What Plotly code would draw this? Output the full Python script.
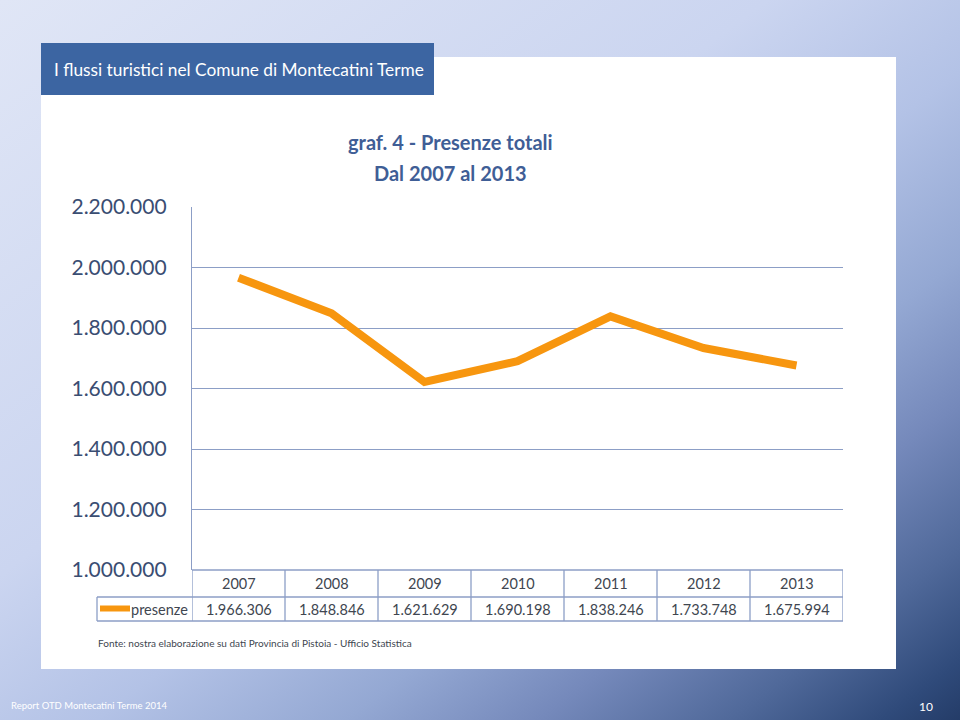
import base64
import plotly.graph_objects as go

# ---------------- data ----------------
years = ["2007", "2008", "2009", "2010", "2011", "2012", "2013"]
presenze = [1966306, 1848846, 1621629, 1690198, 1838246, 1733748, 1675994]
y_ticks = [1000000, 1200000, 1400000, 1600000, 1800000, 2000000, 2200000]
series_name = "presenze"
slide_title = "I flussi turistici nel Comune di Montecatini Terme"
chart_title = "graf. 4 - Presenze totali"
chart_subtitle = "Dal 2007 al 2013"
source_note = "Fonte: nostra elaborazione su dati Provincia di Pistoia - Ufficio Statistica"
footer_text = "Report OTD Montecatini Terme 2014"
page_number = "10"

W, H = 960, 720
def px(x):
    return x / W
def py(y):
    return 1 - y / H

ORANGE = "#F7960F"
GRID = "#8C9EC6"
TEXT_DARK = "#404650"
BLUE_TITLE = "#3F5E96"

def fmt(v):
    return f"{v:,}".replace(",", ".")

# background gradient as SVG image
svg = (
    '<svg xmlns="http://www.w3.org/2000/svg" width="960" height="720" preserveAspectRatio="none">'
    '<defs><linearGradient id="g" x1="0" y1="0" x2="1" y2="1">'
    '<stop offset="0" stop-color="#e0e6f6"/>'
    '<stop offset="0.4" stop-color="#cbd5f0"/>'
    '<stop offset="0.55" stop-color="#b3c2e6"/>'
    '<stop offset="0.68" stop-color="#94a8d3"/>'
    '<stop offset="0.78" stop-color="#7589bb"/>'
    '<stop offset="0.88" stop-color="#50699a"/>'
    '<stop offset="0.96" stop-color="#2f4a7a"/>'
    '<stop offset="1" stop-color="#243c68"/>'
    '</linearGradient></defs>'
    '<rect width="960" height="720" fill="url(#g)"/></svg>'
)
bg_src = "data:image/svg+xml;base64," + base64.b64encode(svg.encode()).decode()

fig = go.Figure()
fig.add_trace(go.Scatter(
    x=years, y=presenze, mode="lines", name=series_name,
    line=dict(color=ORANGE, width=8), showlegend=False,
    hovertemplate="%{x}: %{y:,d}<extra></extra>",
))

x_dom = [px(192), px(843)]
y_dom = [py(570), py(207)]

shapes = []
shapes.append(dict(type="rect", xref="paper", yref="paper", x0=px(41), x1=px(896), y0=py(669), y1=py(57),
                   fillcolor="white", line=dict(width=0), layer="below"))
shapes.append(dict(type="rect", xref="paper", yref="paper", x0=px(41), x1=px(434), y0=py(95), y1=py(43),
                   fillcolor="#3C65A2", line=dict(width=0), layer="below"))

row_top, row_mid, row_bot = 570, 597, 621
for i in range(len(years) + 1):
    shapes.append(dict(type="line", xref="x", yref="paper", x0=i - 0.5, x1=i - 0.5,
                       y0=py(row_top), y1=py(row_bot), line=dict(color=GRID, width=1.3)))
shapes.append(dict(type="line", xref="paper", yref="paper", x0=px(97), x1=px(97),
                   y0=py(row_mid), y1=py(row_bot), line=dict(color=GRID, width=1.3)))
shapes.append(dict(type="line", xref="x", yref="paper", x0=-0.5, x1=len(years) - 0.5,
                   y0=py(row_top), y1=py(row_top), line=dict(color=GRID, width=1.3)))
for yy in (row_mid, row_bot):
    shapes.append(dict(type="line", xref="paper", yref="paper", x0=px(97), x1=px(843),
                       y0=py(yy), y1=py(yy), line=dict(color=GRID, width=1.3)))
shapes.append(dict(type="line", xref="paper", yref="paper", x0=px(100), x1=px(130),
                   y0=py(608.5), y1=py(608.5), line=dict(color=ORANGE, width=6)))

annotations = []
annotations.append(dict(text=slide_title, xref="paper", yref="paper", x=px(52), y=py(70),
                        xanchor="left", yanchor="middle", showarrow=False,
                        font=dict(family="Lato", size=17.3, color="white")))
annotations.append(dict(text="<b>" + chart_title + "</b>", xref="paper", yref="paper", x=px(450), y=py(142),
                        xanchor="center", yanchor="middle", showarrow=False,
                        font=dict(family="Lato", size=20, color=BLUE_TITLE)))
annotations.append(dict(text="<b>" + chart_subtitle + "</b>", xref="paper", yref="paper", x=px(450), y=py(173),
                        xanchor="center", yanchor="middle", showarrow=False,
                        font=dict(family="Lato", size=20, color=BLUE_TITLE)))
for i, (yr, v) in enumerate(zip(years, presenze)):
    annotations.append(dict(text=yr, xref="x", yref="paper", x=i, y=py(583.5), xanchor="center",
                            yanchor="middle", showarrow=False,
                            font=dict(family="Lato", size=14.5, color=TEXT_DARK)))
    annotations.append(dict(text=fmt(v), xref="x", yref="paper", x=i, y=py(609), xanchor="center",
                            yanchor="middle", showarrow=False,
                            font=dict(family="Lato", size=14.5, color=TEXT_DARK)))
annotations.append(dict(text=series_name, xref="paper", yref="paper", x=px(190), y=py(609), xanchor="right",
                        yanchor="middle", showarrow=False,
                        font=dict(family="Lato", size=14.5, color=TEXT_DARK)))
annotations.append(dict(text=source_note, xref="paper", yref="paper", x=px(96), y=py(643), xanchor="left",
                        yanchor="middle", showarrow=False,
                        font=dict(family="Lato", size=10, color=TEXT_DARK)))
annotations.append(dict(text=footer_text, xref="paper", yref="paper", x=px(9), y=py(705), xanchor="left",
                        yanchor="middle", showarrow=False,
                        font=dict(family="Lato", size=9.5, color="#ffffff")))
annotations.append(dict(text=page_number, xref="paper", yref="paper", x=px(935), y=py(706), xanchor="right",
                        yanchor="middle", showarrow=False,
                        font=dict(family="Lato", size=12, color="#ffffff")))

fig.update_layout(
    template="none",
    width=W, height=H, autosize=False,
    margin=dict(l=0, r=0, t=0, b=0, pad=0, autoexpand=False),
    paper_bgcolor="white", plot_bgcolor="rgba(0,0,0,0)",
    separators=",.",
    images=[dict(source=bg_src, xref="paper", yref="paper", x=0, y=1, sizex=1, sizey=1,
                 xanchor="left", yanchor="top", sizing="stretch", layer="below")],
    shapes=shapes, annotations=annotations,
    xaxis=dict(domain=x_dom, type="category", range=[-0.5, len(years) - 0.5], automargin=False,
               showgrid=False, showticklabels=False, zeroline=False, showline=False, fixedrange=True),
    yaxis=dict(domain=y_dom, range=[min(y_ticks), max(y_ticks)], tickvals=y_ticks, tickformat=",d",
               automargin=False,
               showgrid=True, gridcolor=GRID, gridwidth=1.3, zeroline=False,
               showline=True, linecolor=GRID, linewidth=1.3, ticks="",
               ticklabelstandoff=20,
               tickfont=dict(family="Lato", size=21, color="#3A4D72"), fixedrange=True),
    showlegend=False,
)

fig.write_html("out.html",
               config={"displayModeBar": False},
               post_script="document.body.style.margin='0';document.body.style.overflow='hidden';")
